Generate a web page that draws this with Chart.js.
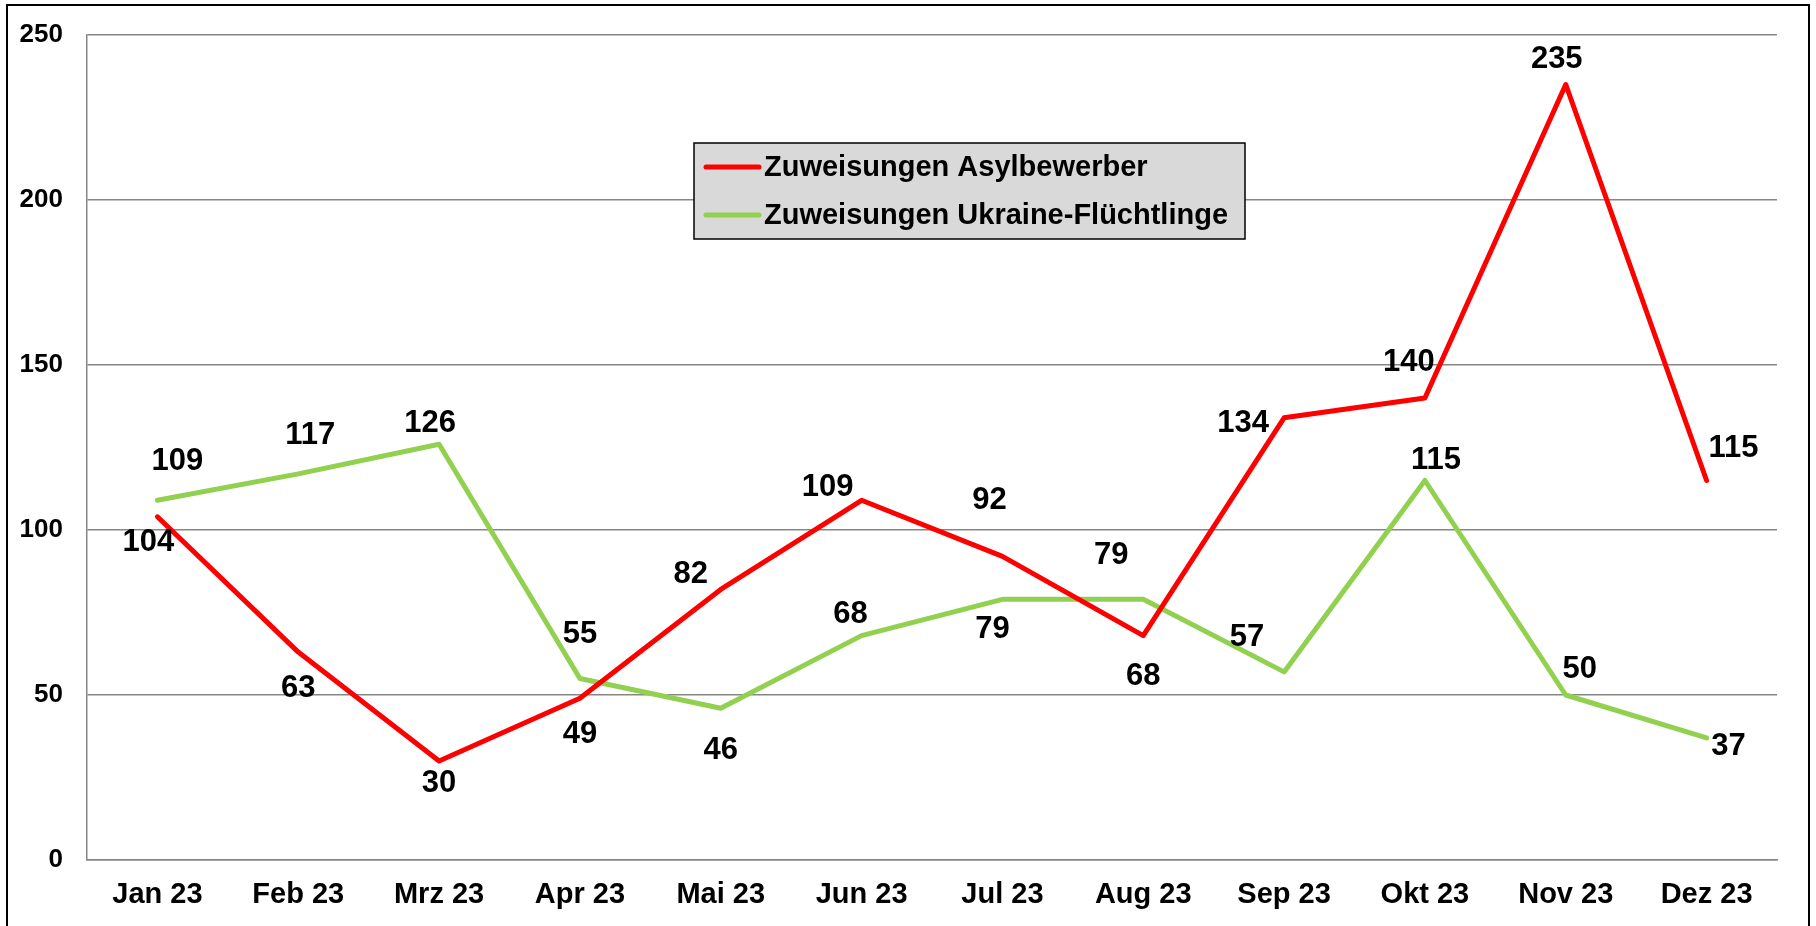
<!DOCTYPE html>
<html>
<head>
<meta charset="utf-8">
<script src="https://cdn.jsdelivr.net/npm/chart.js@4/dist/chart.umd.min.js"></script>
<style>
  html, body { margin: 0; padding: 0; background: #fff; }
  #wrap { position: relative; width: 1816px; height: 926px; overflow: hidden; }
  #frame { position: absolute; left: 6px; top: 4px; width: 1804px; height: 940px; border: 2px solid #000; box-sizing: border-box; pointer-events: none; }
  canvas { position: absolute; left: 0; top: 0; }
</style>
</head>
<body>
<div id="wrap">
  <canvas id="c" width="1816" height="926"></canvas>
  <div id="frame"></div>
</div>
<script>
const categories = ["Jan 23", "Feb 23", "Mrz 23", "Apr 23", "Mai 23", "Jun 23", "Jul 23", "Aug 23", "Sep 23", "Okt 23", "Nov 23", "Dez 23"];
const asylbewerber = [104, 63, 30, 49, 82, 109, 92, 68, 134, 140, 235, 115];
const ukraine = [109, 117, 126, 55, 46, 68, 79, 79, 57, 115, 50, 37];
const seriesNames = ["Zuweisungen Asylbewerber", "Zuweisungen Ukraine-Flüchtlinge"];
const yTicks = [0, 50, 100, 150, 200, 250];

// label placement offsets (px) relative to each point
const labelOffsetsAsyl = [[-9,26],[0,36],[0,22],[0,36],[-30,-15],[-34,-13],[-13,-56],[0,41],[-41,6],[-16,-36],[-9,-25],[27,-32]];
const labelOffsetsUkr  = [[20,-39],[12,-38],[-9,-21],[0,-44],[0,42],[-11,-21],[-10,30],[-32,-44],[-37,-34],[11,-20],[14,-26],[22,9]];

const FONT = "'Liberation Sans', Arial, Helvetica, sans-serif";

const dataLabels = {
  id: 'dataLabels',
  afterDatasetsDraw(chart) {
    const ctx = chart.ctx;
    const offs = [labelOffsetsAsyl, labelOffsetsUkr];
    ctx.save();
    ctx.font = "bold 31px " + FONT;
    ctx.fillStyle = "#000";
    ctx.textAlign = "center";
    ctx.textBaseline = "middle";
    chart.data.datasets.forEach((ds, di) => {
      const meta = chart.getDatasetMeta(di);
      meta.data.forEach((pt, i) => {
        const o = offs[di][i];
        ctx.fillText(String(ds.data[i]), pt.x + o[0], pt.y + o[1]);
      });
    });
    ctx.restore();
  }
};

const legendBox = {
  id: 'legendBox',
  afterDraw(chart) {
    const ctx = chart.ctx;
    const x = 694, y = 143, w = 551, h = 96;
    ctx.save();
    ctx.fillStyle = "#d9d9d9";
    ctx.fillRect(x, y, w, h);
    ctx.strokeStyle = "#000";
    ctx.lineWidth = 1.5;
    ctx.strokeRect(x, y, w, h);
    ctx.font = "bold 29px " + FONT;
    ctx.textAlign = "left";
    ctx.textBaseline = "middle";
    const rows = [167, 215];
    chart.data.datasets.forEach((ds, i) => {
      ctx.strokeStyle = ds.borderColor;
      ctx.lineWidth = 5;
      ctx.lineCap = "round";
      ctx.beginPath();
      ctx.moveTo(706, rows[i]);
      ctx.lineTo(759, rows[i]);
      ctx.stroke();
      ctx.fillStyle = "#000";
      ctx.fillText(ds.label, 764, rows[i] + 1);
    });
    ctx.restore();
  }
};

new Chart(document.getElementById('c'), {
  type: 'line',
  data: {
    labels: categories,
    datasets: [
      { label: seriesNames[0], data: asylbewerber, borderColor: "#ff0000", backgroundColor: "#ff0000",
        borderWidth: 5, pointRadius: 0, tension: 0, borderCapStyle: 'round', borderJoinStyle: 'round' },
      { label: seriesNames[1], data: ukraine, borderColor: "#92d050", backgroundColor: "#92d050",
        borderWidth: 5, pointRadius: 0, tension: 0, borderCapStyle: 'round', borderJoinStyle: 'round' }
    ]
  },
  options: {
    responsive: false,
    devicePixelRatio: 1,
    animation: false,
    layout: { padding: { top: 35, right: 39, left: 0, bottom: 0 } },
    plugins: { legend: { display: false }, tooltip: { enabled: false } },
    scales: {
      x: {
        offset: true,
        grid: { display: false, drawTicks: false },
        border: { display: true, color: "#868686", width: 1.5 },
        ticks: { color: "#000", font: { family: FONT, size: 29, weight: 'bold' }, padding: 18, maxRotation: 0, autoSkip: false },
        afterFit(scale) { scale.height = 66; }
      },
      y: {
        min: 0, max: 250,
        afterBuildTicks(scale) { scale.ticks = yTicks.map(v => ({ value: v })); },
        grid: { color: "#868686", lineWidth: 1.5, drawTicks: false },
        border: { display: true, color: "#868686", width: 1.5 },
        ticks: { color: "#000", font: { family: FONT, size: 26, weight: 'bold' }, padding: 24 },
        afterFit(scale) { scale.width = 87; scale.paddingTop = 0; scale.paddingBottom = 0; }
      }
    }
  },
  plugins: [dataLabels, legendBox]
});
</script>
</body>
</html>
